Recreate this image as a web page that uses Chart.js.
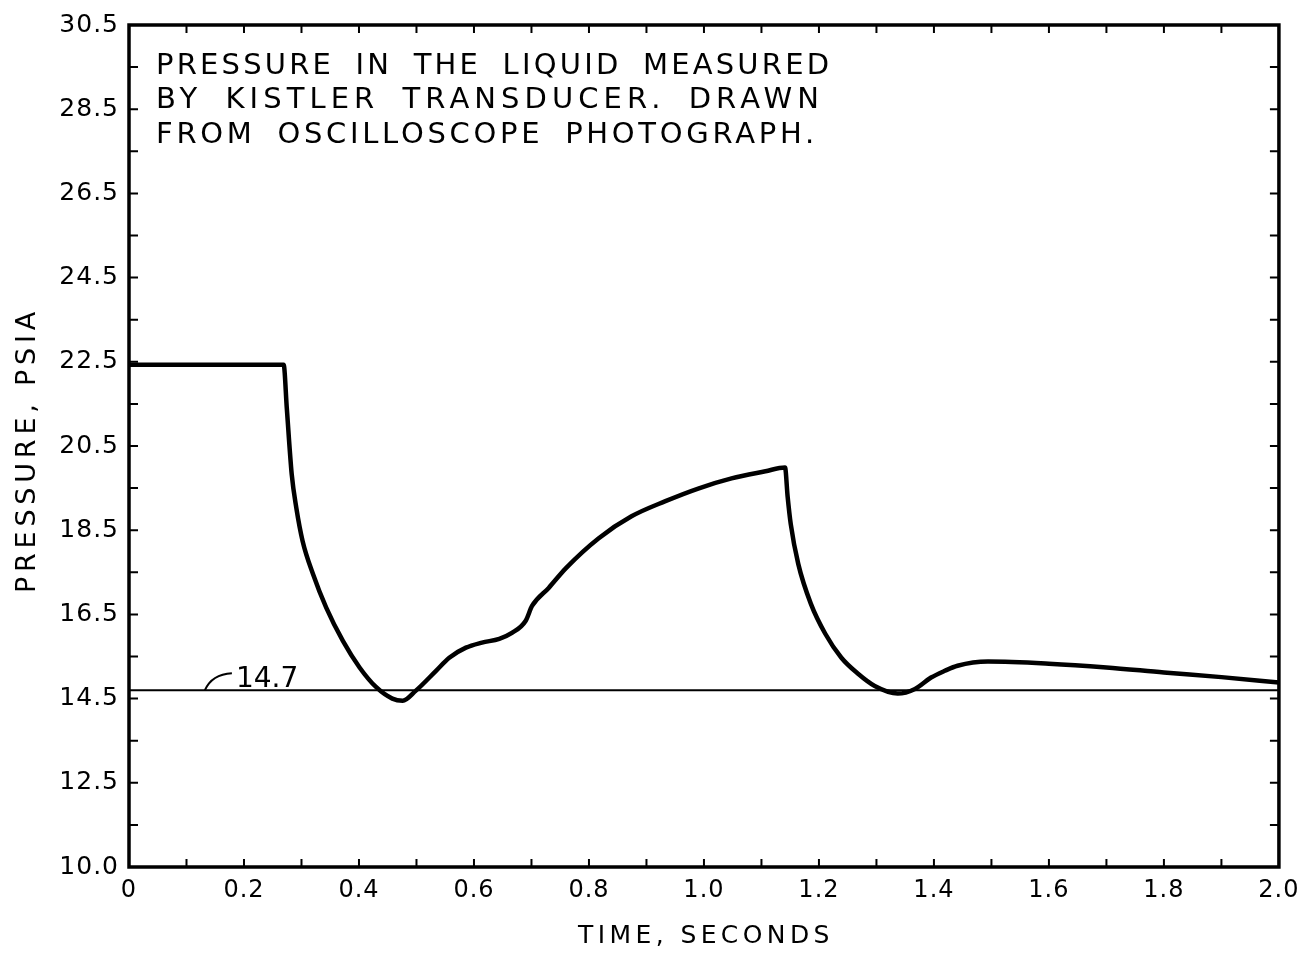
<!DOCTYPE html>
<html>
<head>
<meta charset="utf-8">
<script src="https://cdn.jsdelivr.net/npm/chart.js@4.4.1/dist/chart.umd.min.js"></script>
<style>
html,body{margin:0;padding:0;background:#fff;}
#wrap{width:1307px;height:956px;}
</style>
</head>
<body>
<div id="wrap"><canvas id="c" width="1307" height="956"></canvas></div>
<script>
// ---- data ----
const timeSec = [0, 0.269, 0.2745, 0.283, 0.291, 0.302, 0.320, 0.343, 0.372, 0.401, 0.430, 0.458, 0.476, 0.499, 0.534, 0.557, 0.586, 0.614, 0.644, 0.666, 0.690, 0.701, 0.730, 0.760, 0.817, 0.874, 0.933, 0.990, 1.048, 1.107, 1.141, 1.1455, 1.151, 1.164, 1.186, 1.211, 1.239, 1.268, 1.297, 1.337, 1.367, 1.395, 1.419, 1.441, 1.494, 1.60, 1.70, 1.80, 1.90, 2.0];
const pressurePsia = [22.43, 22.43, 21.39, 19.83, 19.03, 18.24, 17.46, 16.66, 15.87, 15.24, 14.77, 14.50, 14.45, 14.69, 15.16, 15.47, 15.71, 15.83, 15.92, 16.06, 16.35, 16.70, 17.13, 17.60, 18.31, 18.83, 19.19, 19.49, 19.73, 19.90, 19.99, 19.30, 18.64, 17.70, 16.75, 16.04, 15.47, 15.09, 14.80, 14.62, 14.73, 15.00, 15.16, 15.28, 15.38, 15.33, 15.24, 15.12, 15.01, 14.88];
const atmPressure = 14.7;
const atmLabel = '14.7';
const atmLabelTime = 0.132;

const xTickValues = [0, 0.2, 0.4, 0.6, 0.8, 1.0, 1.2, 1.4, 1.6, 1.8, 2.0];
const xTickLabels = ['0', '0.2', '0.4', '0.6', '0.8', '1.0', '1.2', '1.4', '1.6', '1.8', '2.0'];
const xTickMarks = [0.1, 0.2, 0.3, 0.4, 0.5, 0.6, 0.7, 0.8, 0.9, 1.0, 1.1, 1.2, 1.3, 1.4, 1.5, 1.6, 1.7, 1.8, 1.9];
const yTickValues = [10.5, 12.5, 14.5, 16.5, 18.5, 20.5, 22.5, 24.5, 26.5, 28.5, 30.5];
const yTickLabels = ['10.0', '12.5', '14.5', '16.5', '18.5', '20.5', '22.5', '24.5', '26.5', '28.5', '30.5'];
const yTickMarks = [11.5, 12.5, 13.5, 14.5, 15.5, 16.5, 17.5, 18.5, 19.5, 20.5, 21.5, 22.5, 23.5, 24.5, 25.5, 26.5, 27.5, 28.5, 29.5];

const xTitle = 'TIME, SECONDS';
const yTitle = 'PRESSURE, PSIA';
const noteLines = ['PRESSURE IN THE LIQUID MEASURED', 'BY KISTLER TRANSDUCER. DRAWN', 'FROM OSCILLOSCOPE PHOTOGRAPH.'];
const noteWidths = [673, 663, 658];

const FONT = '"DejaVu Sans", "Liberation Sans", sans-serif';

function fitText(ctx, text, x, y, width, wordGap) {
  ctx.letterSpacing = '0px';
  ctx.wordSpacing = wordGap + 'px';
  const w = ctx.measureText(text).width;
  const ls = (width - w) / (text.length - 1);
  ctx.letterSpacing = ls.toFixed(2) + 'px';
  ctx.fillText(text, x, y);
  ctx.wordSpacing = '0px';
}

const framePlugin = {
  id: 'frame',
  beforeDraw(chart) {
    chart.ctx.letterSpacing = '1px';
  },
  afterDraw(chart) {
    const { ctx, chartArea: a, scales: { x, y } } = chart;
    ctx.save();
    ctx.strokeStyle = '#000';
    ctx.fillStyle = '#000';
    ctx.lineCap = 'butt';
    // frame
    ctx.lineWidth = 3.5;
    ctx.strokeRect(a.left, a.top, a.right - a.left, a.bottom - a.top);
    // inward ticks
    ctx.lineWidth = 2;
    ctx.beginPath();
    xTickMarks.forEach(v => {
      const px = x.getPixelForValue(v);
      ctx.moveTo(px, a.bottom); ctx.lineTo(px, a.bottom - 8);
      ctx.moveTo(px, a.top); ctx.lineTo(px, a.top + 8);
    });
    yTickMarks.forEach(v => {
      const py = y.getPixelForValue(v);
      ctx.moveTo(a.left, py); ctx.lineTo(a.left + 9, py);
      ctx.moveTo(a.right, py); ctx.lineTo(a.right - 9, py);
    });
    ctx.stroke();

    // 14.7 annotation with hook leader
    const ax = x.getPixelForValue(atmLabelTime);
    const ay = y.getPixelForValue(atmPressure);
    ctx.lineWidth = 2;
    ctx.beginPath();
    ctx.moveTo(ax, ay);
    ctx.quadraticCurveTo(ax + 7, ay - 16, ax + 27, ay - 17);
    ctx.stroke();
    ctx.letterSpacing = '0px';
    ctx.font = '28px ' + FONT;
    ctx.textAlign = 'left';
    ctx.textBaseline = 'alphabetic';
    ctx.fillText(atmLabel, ax + 31, ay - 3);

    // note text
    ctx.font = '29px ' + FONT;
    ctx.textBaseline = 'middle';
    noteLines.forEach((t, i) => fitText(ctx, t, a.left + 27, a.top + 41 + i * 34.5, noteWidths[i], 9));

    // axis titles
    ctx.font = '25px ' + FONT;
    ctx.letterSpacing = '4.4px';
    ctx.textAlign = 'center';
    ctx.fillText(xTitle, (a.left + a.right) / 2 + 2, 936);
    ctx.save();
    ctx.translate(28, (a.top + a.bottom) / 2 + 4);
    ctx.rotate(-Math.PI / 2);
    ctx.font = '27px ' + FONT;
    ctx.letterSpacing = '4.8px';
    ctx.fillText(yTitle, 0, 0);
    ctx.restore();
    ctx.restore();
  }
};

new Chart(document.getElementById('c'), {
  type: 'scatter',
  data: {
    datasets: [
      {
        data: timeSec.map((t, i) => ({ x: t, y: pressurePsia[i] })),
        showLine: true,
        borderColor: '#000',
        borderWidth: 4.5,
        pointRadius: 0,
        cubicInterpolationMode: 'monotone',
        fill: false
      },
      {
        data: [{ x: 0, y: atmPressure }, { x: 2.0, y: atmPressure }],
        showLine: true,
        borderColor: '#000',
        borderWidth: 2,
        pointRadius: 0,
        fill: false
      }
    ]
  },
  options: {
    responsive: false,
    animation: false,
    devicePixelRatio: 1,
    layout: { padding: { left: 0, right: 25, top: 22, bottom: 0 } },
    plugins: { legend: { display: false }, tooltip: { enabled: false } },
    scales: {
      x: {
        type: 'linear', min: 0, max: 2.0,
        afterBuildTicks: s => { s.ticks = xTickValues.map(v => ({ value: v })); },
        afterFit: s => { s.height = 89; },
        grid: { display: false, drawTicks: false },
        border: { display: false },
        ticks: {
          autoSkip: false, maxRotation: 0, padding: 9, color: '#000',
          font: { family: FONT, size: 24 },
          callback: v => xTickLabels[xTickValues.indexOf(v)]
        }
      },
      y: {
        type: 'linear', min: 10.5, max: 30.5,
        afterBuildTicks: s => { s.ticks = yTickValues.map(v => ({ value: v })); },
        afterFit: s => { s.width = 129; },
        grid: { display: false, drawTicks: false },
        border: { display: false },
        ticks: {
          autoSkip: false, padding: 10, color: '#000',
          font: { family: FONT, size: 25 },
          callback: v => yTickLabels[yTickValues.indexOf(v)]
        }
      }
    }
  },
  plugins: [framePlugin]
});
</script>
</body>
</html>
